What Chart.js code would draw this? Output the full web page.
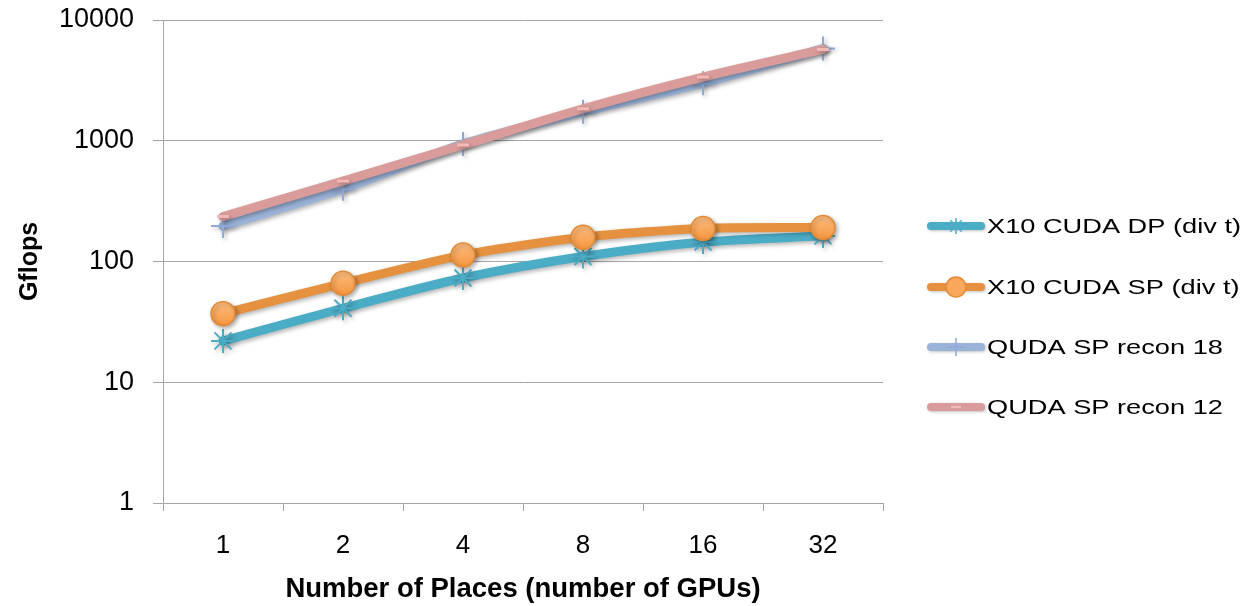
<!DOCTYPE html>
<html>
<head>
<meta charset="utf-8">
<script src="https://cdn.jsdelivr.net/npm/chart.js@4/dist/chart.umd.min.js"></script>
<style>
  html, body { margin: 0; padding: 0; background: #ffffff; }
  #wrap { width: 1247px; height: 606px; position: relative; }
</style>
</head>
<body>
<div id="wrap"><canvas id="chart" width="1247" height="606"></canvas></div>
<script>
// Places (GPUs) on the x axis
const places = ['1', '2', '4', '8', '16', '32'];

// Gflops per configuration
const x10CudaDP = [22, 41, 73, 110, 145, 163];
const x10CudaSP = [37, 66, 113, 159, 188, 191];
const qudaRecon18 = [197, 400, 940, 1740, 3000, 5800];
const qudaRecon12 = [236, 464, 922, 1840, 3370, 5700];

// Decade ticks on the log axis
const yTicks = [1, 10, 100, 1000, 10000];

const seriesNames = ['X10 CUDA DP (div t)', 'X10 CUDA SP (div t)', 'QUDA SP recon 18', 'QUDA SP recon 12'];

const FONT = '"Liberation Sans", Arial, sans-serif';
const GRID = '#A6A6A6';

// soft drop shadow under each series
const shadowPlugin = {
  id: 'seriesShadow',
  beforeDatasetDraw(chart) {
    const ctx = chart.ctx;
    ctx.save();
    ctx.shadowColor = 'rgba(0,0,0,0.30)';
    ctx.shadowBlur = 4;
    ctx.shadowOffsetX = 2;
    ctx.shadowOffsetY = 2;
  },
  afterDatasetDraw(chart) {
    chart.ctx.restore();
  }
};

// legend marker sizes (smaller than the plotted ones)
const legendMarker = [
  { radius: 8, width: 1.5 },
  { radius: 10, width: 1.5 },
  { radius: 9, width: 1.5 },
  { radius: 5, width: 2 }
];

// legend on the right: line sample with its marker, then the series name
const sideLegend = {
  id: 'sideLegend',
  afterDraw(chart) {
    const ctx = chart.ctx;
    const x0 = 927, x1 = 985, textX = 987;
    const rows = [226, 287, 347, 407];
    const fontSize = 21;
    ctx.save();
    ctx.font = fontSize + 'px ' + FONT;
    const stretch = 254 / ctx.measureText(seriesNames[0]).width;
    ctx.restore();
    chart.data.datasets.forEach((ds, i) => {
      const y = rows[i];
      const cx = (x0 + x1) / 2;
      ctx.save();
      ctx.shadowColor = 'rgba(0,0,0,0.25)';
      ctx.shadowBlur = 3;
      ctx.shadowOffsetX = 1;
      ctx.shadowOffsetY = 1;
      ctx.strokeStyle = ds.borderColor;
      ctx.lineWidth = 8;
      ctx.lineCap = 'round';
      ctx.beginPath();
      ctx.moveTo(x0 + 4, y);
      ctx.lineTo(x1 - 4, y);
      ctx.stroke();
      ctx.restore();

      ctx.save();
      ctx.fillStyle = ds.legendFill;
      ctx.strokeStyle = ds.pointBorderColor;
      ctx.lineWidth = legendMarker[i].width;
      Chart.helpers.drawPoint(ctx, {
        pointStyle: ds.pointStyle,
        radius: legendMarker[i].radius,
        rotation: 0,
        borderWidth: legendMarker[i].width
      }, cx, y);
      ctx.restore();

      ctx.save();
      ctx.fillStyle = '#000000';
      ctx.font = fontSize + 'px ' + FONT;
      ctx.textBaseline = 'middle';
      ctx.textAlign = 'left';
      ctx.translate(textX, y + 1);
      ctx.scale(stretch, 1);
      ctx.fillText(seriesNames[i], 0, 0);
      ctx.restore();
    });
  }
};

const ctx = document.getElementById('chart').getContext('2d');

function spFill(context) {
  const c = context.chart.ctx;
  const el = context.element;
  if (!el || el.x === undefined) return '#F9A95B';
  const g = c.createLinearGradient(0, el.y - 12, 0, el.y + 12);
  g.addColorStop(0, '#FBBD80');
  g.addColorStop(1, '#F6963F');
  return g;
}

new Chart(ctx, {
  type: 'line',
  data: {
    labels: places,
    datasets: [
      {
        label: seriesNames[0],
        data: x10CudaDP,
        borderColor: '#4BACC6',
        borderWidth: 9,
        pointStyle: 'star',
        pointRadius: 12,
        pointBorderWidth: 2,
        pointBackgroundColor: '#4BACC6',
        pointBorderColor: '#4BACC6',
        legendFill: '#4BACC6',
        tension: 0.25,
        order: 4
      },
      {
        label: seriesNames[1],
        data: x10CudaSP,
        borderColor: '#E5913F',
        borderWidth: 9,
        pointStyle: 'circle',
        pointRadius: 12,
        pointBorderWidth: 1.5,
        pointBackgroundColor: spFill,
        pointBorderColor: '#E38A35',
        legendFill: '#F9A75A',
        tension: 0.25,
        order: 3
      },
      {
        label: seriesNames[2],
        data: qudaRecon18,
        borderColor: '#9BB3D9',
        borderWidth: 9,
        pointStyle: 'cross',
        pointRadius: 12,
        pointBorderWidth: 2,
        pointBackgroundColor: '#8FAAD6',
        pointBorderColor: '#8FAAD6',
        legendFill: '#8FAAD6',
        tension: 0.25,
        order: 2
      },
      {
        label: seriesNames[3],
        data: qudaRecon12,
        borderColor: '#D99C9A',
        borderWidth: 9,
        pointStyle: 'line',
        pointRadius: 6,
        pointBorderWidth: 3,
        pointBackgroundColor: '#F3B9B8',
        pointBorderColor: '#F3B9B8',
        legendFill: '#F3B9B8',
        tension: 0.25,
        order: 1
      }
    ]
  },
  options: {
    responsive: false,
    animation: false,
    devicePixelRatio: 1,
    layout: { padding: { top: 20, right: 364, left: 0, bottom: 0 } },
    plugins: {
      legend: { display: false },
      tooltip: { enabled: false }
    },
    elements: { line: { borderCapStyle: 'round', borderJoinStyle: 'round' } },
    scales: {
      x: {
        type: 'category',
        offset: true,
        grid: {
          offset: true,
          drawOnChartArea: false,
          drawTicks: true,
          tickLength: 8,
          color: GRID,
          tickColor: GRID
        },
        border: { color: GRID, width: 1 },
        ticks: {
          color: '#000000',
          font: { family: FONT, size: 26 },
          padding: 19,
          maxRotation: 0
        },
        title: {
          display: true,
          text: 'Number of Places (number of GPUs)',
          color: '#000000',
          font: { family: FONT, size: 27.5, weight: 'bold' },
          padding: { top: 0, bottom: 0 }
        },
        afterFit(scale) {
          scale.height = 103;
          scale.paddingLeft = 0;
          scale.paddingRight = 0;
        }
      },
      y: {
        type: 'logarithmic',
        min: 1,
        max: 10000,
        afterBuildTicks(scale) {
          scale.ticks = yTicks.map(v => ({ value: v }));
        },
        grid: {
          color: GRID,
          tickColor: GRID,
          tickLength: 10,
          lineWidth: 1
        },
        border: { color: GRID, width: 1 },
        ticks: {
          color: '#000000',
          font: { family: FONT, size: 27 },
          padding: 19,
          callback: (v) => String(v)
        },
        title: {
          display: true,
          text: 'Gflops',
          color: '#000000',
          font: { family: FONT, size: 25, weight: 'bold' },
          padding: { top: 15, bottom: 0 }
        },
        afterFit(scale) {
          scale.width = 163;
          scale.paddingTop = 0;
          scale.paddingBottom = 0;
        }
      }
    }
  },
  plugins: [shadowPlugin, sideLegend]
});
</script>
</body>
</html>
